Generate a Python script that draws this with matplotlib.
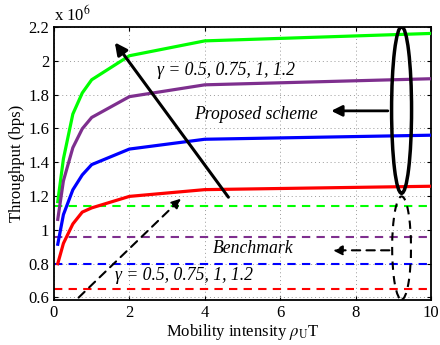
import matplotlib
matplotlib.use("Agg")
import matplotlib.pyplot as plt
from matplotlib.patches import Ellipse
from matplotlib.ticker import FuncFormatter

plt.rcParams['font.family'] = ['Liberation Serif', 'DejaVu Serif']
plt.rcParams['mathtext.fontset'] = 'stix'

# data (throughput in units of 1e6 bps)
x = [0.1, 0.25, 0.5, 0.75, 1, 2, 4, 10]
proposed_g05 = [0.80, 0.92, 1.035, 1.105, 1.13, 1.198, 1.238, 1.258]
proposed_g075 = [0.915, 1.09, 1.237, 1.325, 1.386, 1.478, 1.536, 1.560]
proposed_g1 = [1.062, 1.29, 1.486, 1.598, 1.665, 1.788, 1.858, 1.894]
proposed_g12 = [1.167, 1.42, 1.685, 1.81, 1.888, 2.03, 2.118, 2.162]
bench_g05 = 0.652
bench_g075 = 0.80
bench_g1 = 0.96
bench_g12 = 1.14

colors = {'g05': '#FF0000', 'g075': '#0000FF', 'g1': '#7E2F8E', 'g12': '#00FF00'}

fig = plt.figure(figsize=(4.4, 3.45), dpi=100)
ax = fig.add_axes([0.1227, 0.1304, 0.8568, 0.7913])

ax.plot(x, proposed_g12, color=colors['g12'], lw=2.3, zorder=3)
ax.plot(x, proposed_g1, color=colors['g1'], lw=2.3, zorder=3)
ax.plot(x, proposed_g075, color=colors['g075'], lw=2.3, zorder=3)
ax.plot(x, proposed_g05, color=colors['g05'], lw=2.3, zorder=3)

for val, c in [(bench_g12, colors['g12']), (bench_g1, colors['g1']),
               (bench_g075, colors['g075']), (bench_g05, colors['g05'])]:
    ax.axhline(val, color=c, lw=1.5, ls=(0, (4, 3)), zorder=2)

ax.set_xlim(0, 10)
ax.set_ylim(0.585, 2.2)
ax.set_xticks([0, 2, 4, 6, 8, 10])
ax.set_yticks([0.6, 0.8, 1.0, 1.2, 1.4, 1.6, 1.8, 2.0, 2.2])
ax.yaxis.set_major_formatter(FuncFormatter(lambda v, p: '%g' % round(v, 2)))
ax.tick_params(direction='in', labelsize=12, length=3, width=0.8, top=True, right=True)
ax.grid(True, ls=(0, (1, 3)), color='#999999', lw=0.7)
for s in ax.spines.values():
    s.set_linewidth(1.3)

ax.set_xlabel(r'Mobility intensity $\rho_{\mathrm{U}}$T', fontsize=12, labelpad=1)
ax.set_ylabel('Throughput (bps)', fontsize=12, labelpad=2)
fig.text(0.122, 0.94, r'x 10$^{6}$', fontsize=12, ha='left', va='baseline')

gamma_label = 'γ = 0.5, 0.75, 1, 1.2'
fs_ann = 12.7

# annotations
ax.annotate('', xy=(1.57, 2.122), xytext=(4.67, 1.18),
            arrowprops=dict(arrowstyle='-|>', color='black', lw=2.2, mutation_scale=18))
ax.text(4.56, 1.94, gamma_label, fontsize=fs_ann, style='italic',
        ha='center', va='center')
ax.text(5.36, 1.685, 'Proposed scheme', fontsize=fs_ann, style='italic',
        ha='center', va='center')
ax.annotate('', xy=(7.28, 1.704), xytext=(8.93, 1.704),
            arrowprops=dict(arrowstyle='-|>', color='black', lw=2.0, mutation_scale=16))
ax.add_patch(Ellipse((9.22, 1.709), 0.53, 0.985, fill=False, ec='black', lw=2.5, zorder=5))

ax.add_patch(Ellipse((9.22, 0.893), 0.5, 0.61, fill=False, ec='black', lw=1.5,
                     ls=(0, (4, 3)), zorder=5))
ax.annotate('', xy=(7.32, 0.879), xytext=(8.97, 0.879),
            arrowprops=dict(arrowstyle='-|>', color='black', lw=1.5, ls=(0, (4, 3)),
                            mutation_scale=14))
ax.text(5.28, 0.89, 'Benchmark', fontsize=fs_ann, style='italic', ha='center', va='center')
ax.text(3.45, 0.731, gamma_label, fontsize=fs_ann, style='italic',
        ha='center', va='center')
ax.annotate('', xy=(3.43, 1.197), xytext=(0.6, 0.588),
            arrowprops=dict(arrowstyle='-|>', color='black', lw=1.5, ls=(0, (4, 3)),
                            mutation_scale=14))

fig.savefig('out.png', dpi=100)
